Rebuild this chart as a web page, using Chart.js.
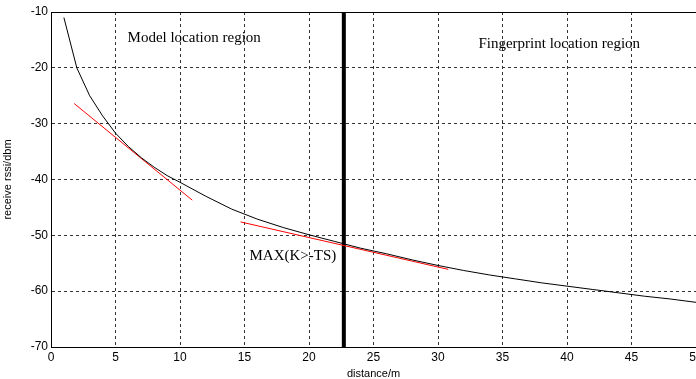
<!DOCTYPE html>
<html>
<head>
<meta charset="utf-8">
<script src="https://cdn.jsdelivr.net/npm/chart.js@4"></script>
<style>
  html, body { margin: 0; padding: 0; background: #fff; }
  #wrap { width: 696px; height: 379px; }
</style>
</head>
<body>
<div id="wrap"><canvas id="myChart"></canvas></div>
<script>
// datos
var distancias = [1, 2, 3, 4, 5, 6, 7, 8, 9, 10, 12, 14, 16, 18, 20, 22, 24, 26, 28, 30, 32, 34, 36, 38, 40, 42, 44, 46, 48, 50];
var rssi = [-11, -20, -25, -28.6, -31.7, -34.1, -36.1, -37.8, -39.3, -40.5, -43, -45.3, -47.1, -48.6, -49.9, -51.1, -52.3, -53.3, -54.4, -55.4, -56.3, -57.1, -57.8, -58.5, -59.1, -59.7, -60.3, -60.9, -61.4, -62];

// rectas rojas (ajuste de cada región)
var ajuste1X = [1.8, 10.95];
var ajuste1Y = [-26.4, -43.7];
var ajuste2X = [14.7, 30.8];
var ajuste2Y = [-47.6, -56.1];

// línea vertical de separación
var limiteX = [22.7, 22.7];
var limiteY = [-10, -70];

// textos
var textos = ['Model location region', 'Fingerprint location region', 'MAX(K>-TS)'];
var textosX = [11.1, 39.4, 18.75];
var textosY = [-14.7, -15.8, -53.7];

function puntos(xs, ys) {
  return xs.map(function(x, i) { return { x: x, y: ys[i] }; });
}

var textPlugin = {
  id: 'textos',
  afterDraw: function(chart) {
    var ctx = chart.ctx;
    var xs = chart.scales.x, ys = chart.scales.y;
    var area = chart.chartArea;
    ctx.save();
    // borde superior
    ctx.strokeStyle = '#000';
    ctx.lineWidth = 1;
    ctx.beginPath();
    ctx.moveTo(area.left, area.top + 0.5);
    ctx.lineTo(area.right, area.top + 0.5);
    ctx.stroke();
    ctx.fillStyle = '#000';
    ctx.font = '15px "Liberation Serif", "Times New Roman", serif';
    ctx.textAlign = 'center';
    ctx.textBaseline = 'middle';
    textos.forEach(function(t, i) {
      ctx.fillText(t, xs.getPixelForValue(textosX[i]), ys.getPixelForValue(textosY[i]));
    });
    ctx.restore();
  }
};

var ctx = document.getElementById('myChart');

var myChart = new Chart(ctx, {
  type: 'scatter',
  data: {
    datasets: [
      {
        data: puntos(distancias, rssi),
        showLine: true,
        borderColor: '#000',
        borderWidth: 1,
        pointRadius: 0,
        tension: 0
      },
      {
        data: puntos(ajuste1X, ajuste1Y),
        showLine: true,
        borderColor: '#ff0000',
        borderWidth: 1,
        pointRadius: 0
      },
      {
        data: puntos(ajuste2X, ajuste2Y),
        showLine: true,
        borderColor: '#ff0000',
        borderWidth: 1,
        pointRadius: 0
      },
      {
        data: puntos(limiteX, limiteY),
        showLine: true,
        borderColor: '#000',
        borderWidth: 4,
        pointRadius: 0
      }
    ]
  },
  options: {
    animation: false,
    responsive: true,
    maintainAspectRatio: false,
    layout: { padding: { top: 12, right: 0, left: 0, bottom: 0 } },
    plugins: {
      legend: { display: false },
      tooltip: { enabled: false }
    },
    scales: {
      x: {
        type: 'linear',
        min: 0,
        max: 50,
        ticks: {
          stepSize: 5,
          color: '#000',
          padding: 3,
          maxRotation: 0,
          font: { family: '"Liberation Sans", Arial, sans-serif', size: 12 }
        },
        grid: { color: '#333', lineWidth: 1, drawTicks: false },
        border: { color: '#000', width: 1, dash: [3, 3] },
        title: {
          display: true,
          text: 'distance/m',
          color: '#000',
          padding: { top: 0, bottom: 0 },
          font: { family: '"Liberation Sans", Arial, sans-serif', size: 11, lineHeight: 1 }
        },
        afterFit: function(scale) {
          scale.height = 32;
          scale.paddingRight = 0;
          scale.paddingLeft = 0;
        }
      },
      y: {
        type: 'linear',
        min: -70,
        max: -10,
        ticks: {
          stepSize: 10,
          color: '#000',
          padding: 3,
          font: { family: '"Liberation Sans", Arial, sans-serif', size: 12 }
        },
        grid: { color: '#333', lineWidth: 1, drawTicks: false },
        border: { color: '#000', width: 1, dash: [3, 3] },
        title: {
          display: true,
          text: 'receive rssi/dbm',
          color: '#000',
          padding: { top: 2, bottom: 0 },
          font: { family: '"Liberation Sans", Arial, sans-serif', size: 11, lineHeight: 1 }
        },
        afterFit: function(scale) {
          scale.width = 51;
        }
      }
    }
  },
  plugins: [textPlugin]
});
</script>
</body>
</html>
